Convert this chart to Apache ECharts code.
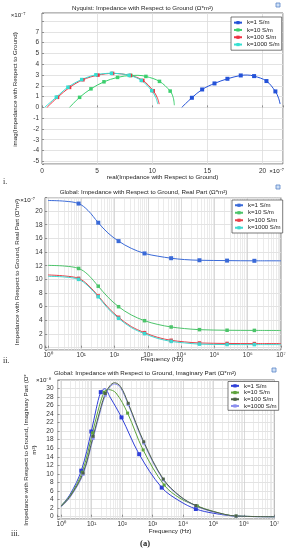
<!DOCTYPE html>
<html><head><meta charset="utf-8">
<script src="https://cdn.jsdelivr.net/npm/echarts@6.0.0/dist/echarts.min.js"></script>
<style>html,body{margin:0;padding:0;background:#fff}#c{width:289px;height:550px}</style>
</head><body><div id="c"></div>
<script>
// ---------- DATA ----------
const kNames = ['k=1 S/m', 'k=10 S/m', 'k=100 S/m', 'k=1000 S/m'];

// Panel i: Nyquist (x: real, y: imag, both x1e-7)
const nyqK1Curve = [[12.67, 0.0], [18.6, 3.0], [21.45, 0.85], [21.59, 0.31]];
const nyqK1Marks = [[13.59, 0.89], [14.52, 1.66], [15.64, 2.22], [16.81, 2.65], [18.02, 2.96], [19.23, 2.90], [20.35, 2.44], [21.16, 1.48]];
const nyqK10Curve = [[2.5, 0.0], [8.7, 2.97], [11.9, 0.9], [12.0, 0.2]];
const nyqK10Marks = [[3.41, 0.93], [4.44, 1.72], [5.62, 2.37], [6.85, 2.78], [8.06, 2.96], [9.42, 2.87], [10.65, 2.41], [11.62, 1.51]];
const nyqK100Curve = [[0.45, 0.0], [10.45, 0.9], [10.63, 0.3]];
const nyqK100Marks = [[1.41, 0.93], [2.5, 1.85], [3.71, 2.56], [5.07, 2.99], [6.4, 3.15], [8.0, 2.96], [9.14, 2.5], [10.08, 1.54]];
const nyqK1000Curve = [[0.24, 0.0], [10.32, 0.9], [10.5, 0.3]];
const nyqK1000Marks = [[1.3, 0.95], [2.35, 1.87], [3.6, 2.58], [4.89, 3.02], [6.3, 3.16], [7.9, 2.97], [9.0, 2.5], [9.95, 1.55]];

// Panel ii: Real part vs frequency (log10 Hz), values x1e-7
const reLogF = [0, 0.5, 0.92, 1.2, 1.51, 1.8, 2.12, 2.5, 2.9, 3.3, 3.7, 4.1, 4.55, 5.38, 6.2, 7];
const reMarkIdx = [2, 4, 6, 8, 10, 12, 13, 14];
const reK1 = [21.55, 21.45, 21.1, 20.1, 18.3, 16.8, 15.6, 14.55, 13.8, 13.4, 13.1, 12.9, 12.8, 12.75, 12.72, 12.72];
const reK10 = [12.05, 11.95, 11.6, 10.7, 9.0, 7.4, 6.0, 4.8, 3.95, 3.4, 3.03, 2.8, 2.64, 2.55, 2.53, 2.52];
const reK100 = [10.65, 10.5, 10.15, 9.2, 7.57, 5.9, 4.45, 3.1, 2.2, 1.5, 1.08, 0.85, 0.69, 0.62, 0.6, 0.6];
const reK1000 = [10.45, 10.35, 10.0, 9.05, 7.45, 5.75, 4.3, 2.95, 2.05, 1.35, 0.92, 0.7, 0.52, 0.46, 0.45, 0.45];

// Panel iii: Imaginary part vs frequency ([log10 Hz, value x1e-8])
const imK1Curve = [[0, 2.5], [0.3, 5.3], [1.15, 25.2], [1.43, 29.9], [1.6, 28.0], [3.9, 3.6], [5.0, 0.8], [5.74, 0.15], [7, 0]];
const imK1Marks = [[0.66, 10.75], [0.99, 19.9], [1.30, 29.1], [1.98, 23.2], [2.56, 14.6], [3.30, 6.8], [4.42, 1.8]];
const imK10Curve = [[0, 2.6], [0.3, 5.0], [1.2, 24.5], [1.55, 29.7], [1.8, 28.9], [3.9, 4.3], [5.0, 1.2], [7, 0]];
const imK10Marks = [[0.69, 10.4], [1.03, 19.6], [1.41, 29.1], [2.18, 24.2], [2.69, 15.6], [3.38, 7.4], [4.47, 2.5], [5.74, 0.15]];
const imK100Curve = [[0, 2.4], [0.3, 4.8], [1.3, 25.5], [1.6, 30.6], [1.75, 31.3], [1.95, 30.4], [3.9, 4.8], [5.0, 1.2], [7, 0]];
const imK100Marks = [[0.72, 10.2], [1.05, 18.8], [1.45, 28.8], [2.2, 26.5], [2.71, 17.5], [3.35, 8.8], [4.42, 2.6], [5.74, 0.15]];
const imK1000Curve = [[0, 2.3], [0.3, 4.6], [1.3, 25.0], [1.6, 30.3], [1.75, 31.0], [1.95, 30.1], [3.9, 4.7], [5.0, 1.1], [7, 0]];
const imK1000Marks = [[0.72, 9.9], [1.05, 18.3], [1.45, 28.4], [2.2, 26.2], [2.71, 17.2], [3.35, 8.6], [4.42, 2.5], [5.74, 0.1]];

// ---------- STYLE ----------
const FONT = "'Liberation Sans', Arial, sans-serif";
const SERIF = "'Liberation Serif', 'DejaVu Serif', serif";
const colI = ['#2452d8', '#3ccf6e', '#ee3040', '#35e0d2'];
const colII = ['#3a6ad8', '#4cc46a', '#e8404a', '#3fd8d0'];
const colIII = ['#3040d8', '#5ea43c', '#4e6248', '#8c90ee'];
const sup = ['⁰', '¹', '²', '³', '⁴', '⁵', '⁶', '⁷', '⁸', '⁹'];

function mkSeries(name, curve, marks, xi, color, sym, z) {
  const pts = curve.map(p => ({ value: p, symbol: 'none' }))
    .concat(marks.map(p => ({ value: p, symbol: 'rect', symbolSize: sym })));
  pts.sort((a, b) => a.value[0] - b.value[0]);
  return {
    type: 'line', name: name, xAxisIndex: xi, yAxisIndex: xi, data: pts,
    smooth: 0.35, showSymbol: true, showAllSymbol: true, symbol: 'rect', symbolSize: sym,
    lineStyle: { width: 1, color: color }, itemStyle: { color: color },
    emphasis: { disabled: true }, animation: false, z: z || 2
  };
}
const toHz = arr => arr.map(p => [Math.pow(10, p[0]), p[1]]);

const series = [];
// Panel i
[[nyqK1Curve, nyqK1Marks], [nyqK10Curve, nyqK10Marks], [nyqK100Curve, nyqK100Marks], [nyqK1000Curve, nyqK1000Marks]]
  .forEach((d, i) => series.push(mkSeries('a|' + kNames[i], d[0], d[1], 0, colI[i], i === 0 ? 4 : 3.5)));
// Panel ii
[reK1, reK10, reK100, reK1000].forEach((vals, i) => {
  const curve = [], marks = [];
  vals.forEach((v, j) => {
    const pt = [Math.pow(10, reLogF[j]), v];
    if (reMarkIdx.indexOf(j) >= 0) marks.push(pt); else curve.push(pt);
  });
  series.push(mkSeries('b|' + kNames[i], curve, marks, 1, colII[i], i === 0 ? 4 : 3.5));
});
// Panel iii (k=1000 drawn before k=100)
const imData = [[imK1Curve, imK1Marks], [imK10Curve, imK10Marks], [imK100Curve, imK100Marks], [imK1000Curve, imK1000Marks]];
[0, 1, 3, 2].forEach(i => series.push(mkSeries('c|' + kNames[i], toHz(imData[i][0]), toHz(imData[i][1]), 2, colIII[i], i === 0 ? 4 : 3)));

// ---------- AXES ----------
const tickStyle = { show: true, inside: true, length: 2, lineStyle: { color: '#555', width: 0.6 } };
const lblBase = { fontSize: 6.5, color: '#333', fontFamily: FONT };
const split = { show: true, lineStyle: { color: '#dcdcdc', width: 0.8 } };
const isInt = v => Math.abs(v - Math.round(v)) < 1e-6;
const logLabel = v => { const l = Math.log10(v); return isInt(l) ? '10' + sup[Math.round(l)] : ''; };
const minorLine = { show: true, lineStyle: { color: '#e2e2e2', width: 0.7 } };

const xAxes = [
  { gridIndex: 0, type: 'value', min: 0, max: 21.85, splitNumber: 5,
    axisLine: { show: false }, axisTick: tickStyle, splitLine: split,
    axisLabel: Object.assign({ margin: 4, formatter: v => (isInt(v) && Math.round(v) % 5 === 0) ? String(Math.round(v)) : '' }, lblBase) },
  { gridIndex: 1, type: 'log', logBase: 10, min: Math.pow(10, -0.09), max: 1e7, splitNumber: 7,
    axisLine: { show: false }, axisTick: tickStyle, splitLine: { show: true, lineStyle: { color: '#cfcfcf', width: 0.8 } },
    minorTick: { show: false, splitNumber: 9 }, minorSplitLine: minorLine,
    axisLabel: Object.assign({ margin: 1.5, formatter: logLabel }, lblBase) },
  { gridIndex: 2, type: 'log', logBase: 10, min: Math.pow(10, -0.12), max: 1e7, splitNumber: 7,
    axisLine: { show: false }, axisTick: tickStyle, splitLine: { show: true, lineStyle: { color: '#cfcfcf', width: 0.8 } },
    minorTick: { show: false, splitNumber: 9 }, minorSplitLine: minorLine,
    axisLabel: Object.assign({ margin: 2, formatter: logLabel }, lblBase) }
];
const yAxes = [
  { gridIndex: 0, type: 'value', min: -5.25, max: 8.75, splitNumber: 14,
    axisLine: { show: false }, axisTick: tickStyle, splitLine: split,
    axisLabel: Object.assign({ margin: 3, formatter: v => (isInt(v) && v < 7.5) ? String(Math.round(v)) : '' }, lblBase) },
  { gridIndex: 1, type: 'value', min: -0.34, max: 21.96, splitNumber: 11,
    axisLine: { show: false }, axisTick: tickStyle, splitLine: split,
    axisLabel: Object.assign({ margin: 2.5, formatter: v => (isInt(v) && v >= 0 && v <= 20 && Math.round(v) % 2 === 0) ? String(Math.round(v)) : '' }, lblBase) },
  { gridIndex: 2, type: 'value', min: -0.54, max: 31.94, splitNumber: 16,
    axisLine: { show: false }, axisTick: tickStyle, splitLine: split,
    axisLabel: Object.assign({ margin: 4, formatter: v => (isInt(v) && v >= 0 && v <= 30 && Math.round(v) % 2 === 0) ? String(Math.round(v)) : '' }, lblBase) }
];

const gridBase = { show: true, borderColor: '#666', borderWidth: 0.9, backgroundColor: '#fff', containLabel: false };
const grids = [
  Object.assign({ left: 42, top: 13, width: 241, height: 151 }, gridBase),
  Object.assign({ left: 45, top: 197.7, width: 236, height: 152.3 }, gridBase),
  Object.assign({ left: 57.5, top: 380, width: 217, height: 139 }, gridBase)
];

function mkLegend(prefix, left, top, lh, pad) {
  return {
    data: kNames.map(n => prefix + '|' + n), orient: 'vertical', left: left, top: top,
    itemWidth: 8, itemHeight: 4, itemGap: 0, padding: pad,
    backgroundColor: '#fff', borderColor: '#444', borderWidth: 0.7, borderRadius: 0,
    selectedMode: false,
    formatter: n => n.split('|')[1],
    textStyle: { fontSize: 6.1, color: '#222', fontFamily: FONT, lineHeight: lh, padding: 0 }
  };
}

// ---------- TEXT ----------
function T(text, x, y, size, extra) {
  const fam = (extra && extra.fam) || FONT;
  const weight = (extra && extra.weight) || 'normal';
  return {
    type: 'text', x: x, y: y, silent: true, rotation: (extra && extra.rot) || 0,
    style: {
      text: text, font: weight + ' ' + size + 'px ' + fam, fill: '#222',
      textAlign: (extra && extra.align) || 'center', textVerticalAlign: 'middle',
      align: (extra && extra.align) || 'center', verticalAlign: 'middle',
      lineHeight: (extra && extra.lh) || undefined
    }
  };
}
const graphics = [
  T('Nyquist: Impedance with Respect to Ground (Ω*m²)', 142.5, 8, 6.2),
  T('×10⁻⁷', 18, 15.5, 6.2),
  T('imag(Impedance with Respect to Ground)', 15, 89.5, 6.2, { rot: Math.PI / 2 }),
  T('real(Impedance with Respect to Ground)', 162.5, 177.5, 6.2),
  T('×10⁻⁷', 276.5, 171.7, 6.2),
  T('i.', 3, 181.5, 8, { fam: SERIF, align: 'left' }),

  T('Global: Impedance with Respect to Ground, Real Part (Ω*m²)', 143.5, 192, 6.2),
  T('×10⁻⁷', 27.5, 200, 6.2),
  T('Impedance with Respect to Ground, Real Part (Ω*m²)', 17, 272, 6.2, { rot: Math.PI / 2 }),
  T('Frequency (Hz)', 162, 359.5, 6.2),
  T('ii.', 3, 361, 8, { fam: SERIF, align: 'left' }),

  T('Global: Impedance with Respect to Ground, Imaginary Part (Ω*m²)', 145, 373.5, 6.2),
  T('×10⁻⁸', 43.5, 380.7, 6.2),
  T('Impedance with Respect to Ground, Imaginary Part (Ω*\nm²)', 30.5, 450, 6.2, { rot: Math.PI / 2, lh: 8 }),
  T('Frequency (Hz)', 170, 531, 6.2),
  T('iii.', 11, 533.5, 8, { fam: SERIF, align: 'left' }),
  T('(a)', 145, 543.5, 8.5, { fam: SERIF, weight: 'bold' }),

  { type: 'rect', silent: true, shape: { x: 276, y: 3, width: 4, height: 4 }, style: { fill: '#cfe0f5', stroke: '#5a86c8', lineWidth: 0.8 } },
  { type: 'rect', silent: true, shape: { x: 276, y: 185, width: 4, height: 4 }, style: { fill: '#cfe0f5', stroke: '#5a86c8', lineWidth: 0.8 } },
  { type: 'rect', silent: true, shape: { x: 272, y: 368, width: 4, height: 4 }, style: { fill: '#cfe0f5', stroke: '#5a86c8', lineWidth: 0.8 } }
];

const chart = echarts.init(document.getElementById('c'), null, { renderer: 'canvas' });
chart.setOption({
  animation: false,
  backgroundColor: '#fff',
  grid: grids,
  xAxis: xAxes,
  yAxis: yAxes,
  legend: [
    mkLegend('a', 231, 17, 7.3, [2, 2, 2, 2]),
    mkLegend('b', 232, 200, 7.5, [1.5, 2, 1.5, 2]),
    mkLegend('c', 228, 381.5, 6.7, [1, 2, 1, 2])
  ],
  series: series,
  graphic: graphics
});
</script></body></html>
